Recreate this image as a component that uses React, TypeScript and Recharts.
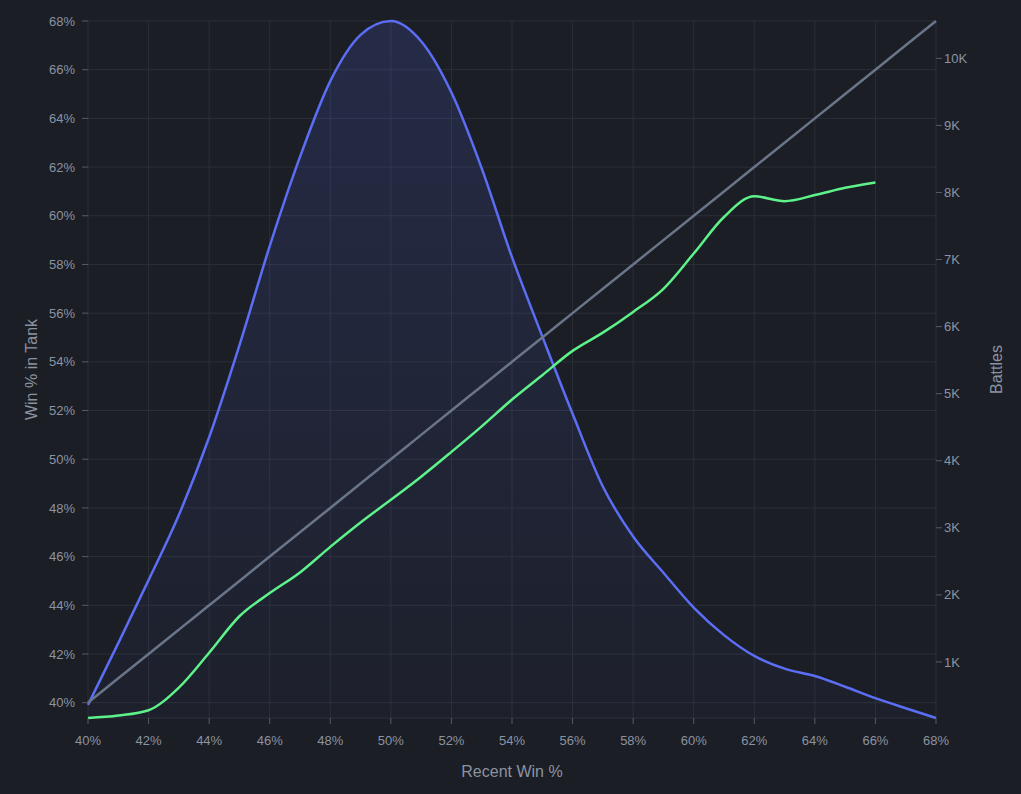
import React from "react";
import { Area, CartesianGrid, ComposedChart, Line, XAxis, YAxis } from "recharts";

const recentWin = [40, 41, 42, 43, 44, 45, 46, 47, 48, 49, 50, 51, 52, 53, 54, 55, 56, 57, 58, 59, 60, 61, 62, 63, 64, 65, 66, 67, 68];
const battles = [
  360, 1280, 2220, 3190, 4350, 5720, 7200, 8530, 9660, 10350, 10557, 10255, 9490, 8360, 7035, 5855, 4700, 3615,
  2870, 2330, 1810, 1400, 1090, 900, 790, 630, 460, 310, 164,
];
const tankWin = [
  39.37, 39.47, 39.69, 40.62, 42.05, 43.55, 44.5, 45.35, 46.4, 47.4, 48.33, 49.28, 50.3, 51.35, 52.45, 53.45,
  54.45, 55.2, 56.05, 57.0, 58.45, 59.95, 60.8, 60.6, 60.85, 61.15, 61.37,
];
const parity = [40, 41, 42, 43, 44, 45, 46, 47, 48, 49, 50, 51, 52, 53, 54, 55, 56, 57, 58, 59, 60, 61, 62, 63, 64, 65, 66, 67, 68];

const xTicks = [40, 42, 44, 46, 48, 50, 52, 54, 56, 58, 60, 62, 64, 66, 68];
const winTicks = [40, 42, 44, 46, 48, 50, 52, 54, 56, 58, 60, 62, 64, 66, 68];
const battleTicks = [1000, 2000, 3000, 4000, 5000, 6000, 7000, 8000, 9000, 10000];

const data = recentWin.map((rate, i) => ({
  rate,
  battles: battles[i],
  tankWin: i < tankWin.length ? tankWin[i] : undefined,
  parity: parity[i],
}));

const bg = "#1b1e25";
const grid = "#2b2f38";
const text = "#8b93a1";
const tickMark = "#565b64";
const font = "'Liberation Sans', Arial, sans-serif";

const tickStyle = { fill: text, fontSize: 13, fontFamily: font };
const labelStyle = { fill: text, fontSize: 16, fontFamily: font };

export default function App() {
  return (
    <div style={{ position: "fixed", left: 0, top: 0, width: 1021, height: 794, background: bg }}>
      <ComposedChart width={1021} height={794} data={data} margin={{ top: 21, right: 0, bottom: 0, left: 0 }}>
        <defs>
          <linearGradient id="battleFill" x1="0" y1="0" x2="0" y2="1">
            <stop offset="0%" stopColor="#5b6ef5" stopOpacity={0.27} />
            <stop offset="100%" stopColor="#5b6ef5" stopOpacity={0.05} />
          </linearGradient>
        </defs>
        <CartesianGrid stroke={grid} yAxisId="left" />
        <XAxis
          dataKey="rate"
          type="number"
          domain={[40, 68]}
          ticks={xTicks}
          tickFormatter={(v) => `${v}%`}
          height={76}
          axisLine={false}
          tickLine={{ stroke: tickMark }}
          tickSize={6}
          tickMargin={12}
          tick={tickStyle}
          label={{ value: "Recent Win %", position: "insideBottom", offset: 17, ...labelStyle }}
        />
        <YAxis
          yAxisId="left"
          type="number"
          domain={["dataMin", "dataMax"]}
          ticks={winTicks}
          tickFormatter={(v) => `${v}%`}
          width={88}
          axisLine={false}
          tickLine={{ stroke: tickMark }}
          tickSize={6}
          tickMargin={7}
          tick={tickStyle}
          label={{
            value: "Win % in Tank",
            angle: -90,
            position: "insideLeft",
            offset: 31,
            style: { textAnchor: "middle" },
            ...labelStyle,
          }}
        />
        <YAxis
          yAxisId="right"
          orientation="right"
          type="number"
          domain={["dataMin", "dataMax"]}
          ticks={battleTicks}
          tickFormatter={(v) => `${v / 1000}K`}
          width={85}
          axisLine={false}
          tickLine={{ stroke: tickMark }}
          tickSize={6}
          tickMargin={2}
          tick={tickStyle}
          label={{
            value: "Battles",
            angle: -90,
            position: "insideRight",
            offset: 25,
            style: { textAnchor: "middle" },
            ...labelStyle,
          }}
        />
        <Area
          yAxisId="right"
          type="monotone"
          dataKey="battles"
          stroke="#5b6ef5"
          strokeWidth={2.5}
          fill="url(#battleFill)"
          isAnimationActive={false}
          dot={false}
          activeDot={false}
        />
        <Line
          yAxisId="left"
          type="monotone"
          dataKey="parity"
          stroke="#6a758a"
          strokeWidth={2.5}
          dot={false}
          isAnimationActive={false}
        />
        <Line
          yAxisId="left"
          type="monotone"
          dataKey="tankWin"
          stroke="#5ef28a"
          strokeWidth={2.5}
          dot={false}
          isAnimationActive={false}
        />
      </ComposedChart>
    </div>
  );
}
